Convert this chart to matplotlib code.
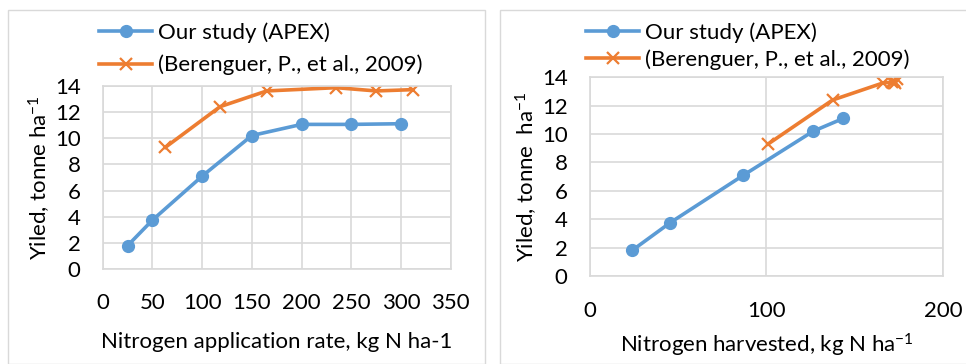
import matplotlib.pyplot as plt
from matplotlib.patches import Rectangle

# left panel: yield vs N application rate
rate_apex = [25, 50, 100, 150, 200, 250, 300]
yield_apex = [1.8, 3.75, 7.1, 10.2, 11.05, 11.05, 11.1]
rate_ber = [63, 118, 165, 235, 275, 312]
yield_ber = [9.3, 12.4, 13.6, 13.85, 13.6, 13.7]

# right panel: yield vs N harvested
harv_apex = [24, 45.5, 87, 126.5, 143.5]
yield_apex2 = [1.8, 3.75, 7.1, 10.2, 11.1]
harv_ber = [101, 137.5, 166, 171, 174, 173, 172]
yield_ber2 = [9.3, 12.4, 13.6, 13.65, 13.85, 13.6, 13.75]

blue = '#5B9BD5'
orange = '#ED7D31'
grid_c = '#D9D9D9'

plt.rcParams['font.family'] = ['Lato', 'DejaVu Sans']
plt.rcParams['mathtext.default'] = 'regular'
fs = 16

fig = plt.figure(figsize=(9.66, 3.64), dpi=100)
W, H = 966, 364

# panel frames
for x0, x1 in [(8, 485), (500, 975)]:
    fig.patches.append(Rectangle((x0 / W, 0), (x1 - x0) / W, (H - 10) / H,
                                 transform=fig.transFigure, fill=False,
                                 edgecolor=grid_c, lw=1))


def style(ax):
    ax.grid(True, color=grid_c, lw=1.2)
    ax.set_axisbelow(True)
    for s in ax.spines.values():
        s.set_color(grid_c)
        s.set_linewidth(1.2)
    ax.tick_params(length=0, labelsize=fs)
    ax.tick_params(axis='y', pad=16)
    ax.set_ylim(0, 14)
    ax.set_yticks(range(0, 15, 2))


ax1 = fig.add_axes([102.7 / W, (H - 269.3) / H, 348 / W, 183.6 / H])
ax1.plot(rate_apex, yield_apex, color=blue, lw=2.6, marker='o', ms=8.5,
         label='Our study (APEX)')
ax1.plot(rate_ber, yield_ber, color=orange, lw=2.6, marker='x', ms=8.5,
         mew=1.6, label='(Berenguer, P., et al., 2009)')
style(ax1)
ax1.set_xlim(0, 350)
ax1.set_xticks(range(0, 351, 50))
ax1.tick_params(axis='x', pad=17)
ax1.set_xlabel('Nitrogen application rate, kg N ha-1', fontsize=fs, labelpad=14)
ax1.set_ylabel('Yiled, tonne ha$^{-1}$', fontsize=fs, labelpad=1)
ax1.legend(loc='upper left', bbox_to_anchor=(99 / W, 1 - 22 / H),
           bbox_transform=fig.transFigure, frameon=False, fontsize=fs,
           handlelength=2.4, handletextpad=0.25, labelspacing=0.55,
           borderpad=0, borderaxespad=0)

ax2 = fig.add_axes([589.7 / W, (H - 276) / H, 353.3 / W, 198.7 / H])
ax2.plot(harv_apex, yield_apex2, color=blue, lw=2.6, marker='o', ms=8.5,
         label='Our study (APEX)')
ax2.plot(harv_ber, yield_ber2, color=orange, lw=2.6, marker='x', ms=8.5,
         mew=1.6, label='(Berenguer, P., et al., 2009)')
style(ax2)
ax2.set_xlim(0, 200)
ax2.set_xticks([0, 100, 200])
ax2.tick_params(axis='x', pad=18)
ax2.set_xlabel('Nitrogen harvested, kg N ha$^{-1}$', fontsize=fs, labelpad=8)
ax2.set_ylabel('Yiled, tonne  ha$^{-1}$', fontsize=fs, labelpad=1)
ax2.legend(loc='upper left', bbox_to_anchor=(586 / W, 1 - 22 / H),
           bbox_transform=fig.transFigure, frameon=False, fontsize=fs,
           handlelength=2.4, handletextpad=0.25, labelspacing=0.3,
           borderpad=0, borderaxespad=0)

fig.savefig('out.png', dpi=100)
